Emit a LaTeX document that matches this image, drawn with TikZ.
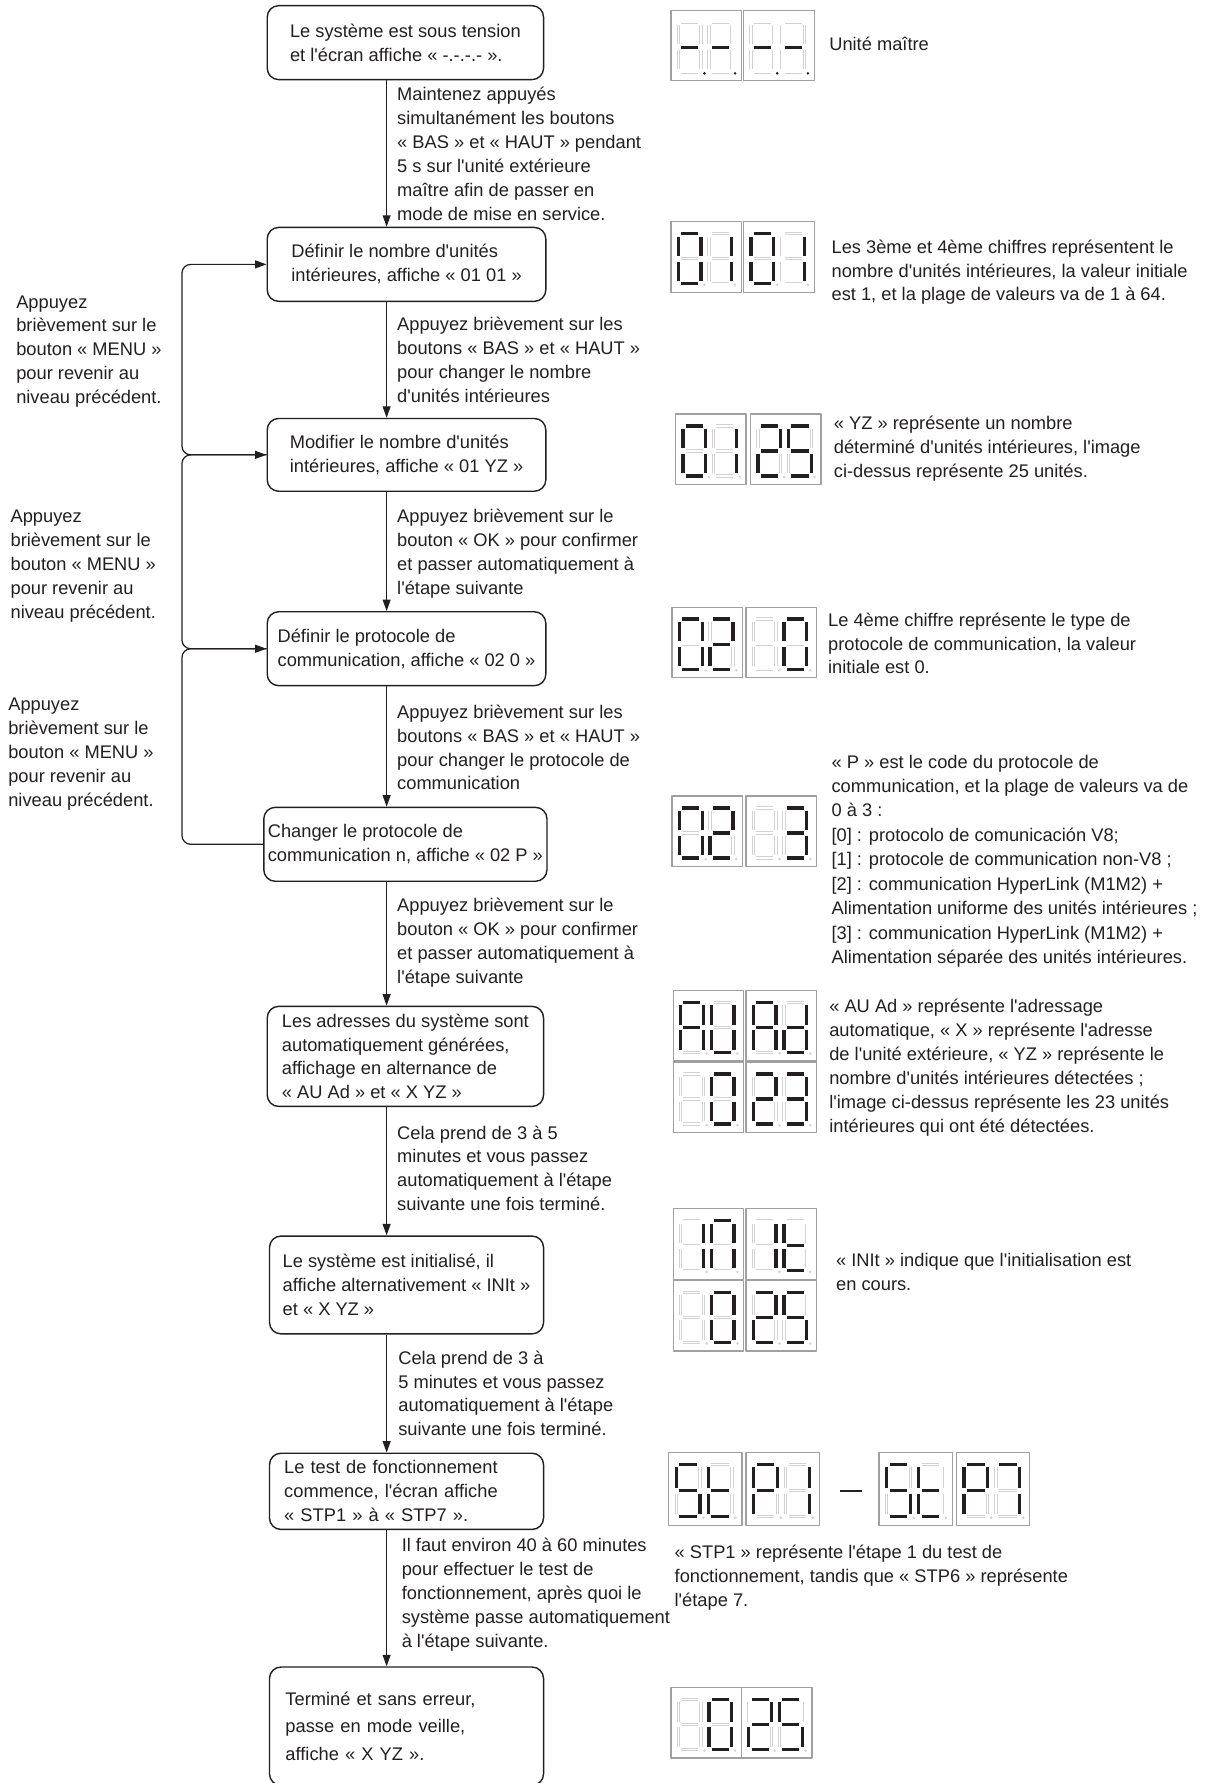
\documentclass[tikz,border=0pt]{standalone}
\usepackage{fontspec}
\setmainfont{Liberation Sans}[Ligatures=TeXOff]
\usetikzlibrary{arrows.meta}
\definecolor{cInk}{HTML}{231F20}
\definecolor{cOff}{HTML}{D2D2D2}
\definecolor{cPanel}{HTML}{A0A0A0}
\newcommand{\pxu}{0.02273cm}
\newcommand{\bodyfont}{\fontsize{10.4}{13.6}\selectfont}
\tikzset{
  stepbox/.style={draw=cInk, line width=0.8pt, rounded corners=6.5pt, align=left,
                  inner sep=0pt, font=\bodyfont, text=cInk},
  txt/.style={align=left, inner sep=0pt, anchor=north west, font=\bodyfont, text=cInk},
  ar/.style={-{Triangle[length=6.5pt, width=4.5pt]}, line width=0.7pt, draw=cInk},
  seg0/.style={draw=cOff, double=white, double distance=0.9pt, line width=0.5pt},
  seg1/.style={draw=cInk, line width=1.9pt},
  segdot/.style={fill=cOff},
  panelbox/.style={draw=cPanel, line width=0.7pt},
}
% one seven-segment digit: #1 left offset, #2..#8 segments a..g (1 = lit)
\def\sevdigB#1#2#3#4#5#6#7#8{%
  \draw[seg#2] (#1+4,10.5) -- (#1+19,10.5);
  \draw[seg#3] (#1+21.5,13) -- (#1+21.5,30);
  \draw[seg#4] (#1+21.5,35) -- (#1+21.5,52);
  \draw[seg#5] (#1+4,54.5) -- (#1+19,54.5);
  \draw[seg#6] (#1+1.5,35) -- (#1+1.5,52);
  \draw[seg#7] (#1+1.5,13) -- (#1+1.5,30);
  \draw[seg#8] (#1+4,32.5) -- (#1+19,32.5);
  \fill[segdot] (#1+24.5,55.5) circle (0.8pt);}
% a framed pair of digits, top left corner at #2
\newcommand{\sevpanel}[4][1]{%
  \begin{scope}[shift={#2}, scale=#1]
    \draw[panelbox] (0,0) rectangle (62,62);
    \sevdigB{5}#3
    \sevdigB{32}#4
  \end{scope}}

\begin{document}
\begin{tikzpicture}[x=0.02273cm, y=-0.02273cm, line join=round]
  \useasboundingbox (0,0) rectangle (1068,1568);

  % steps
  \node[stepbox, minimum width=243*\pxu, minimum height=65*\pxu] (b1) at (356.5,37.5)  {Le système est sous tension\\et l'écran affiche « -.-.-.- ».};
  \node[stepbox, minimum width=245*\pxu, minimum height=65*\pxu] (b2) at (357.5,232.5) {Définir le nombre d'unités\\intérieures, affiche « 01 01 »};
  \node[stepbox, minimum width=245*\pxu, minimum height=64*\pxu] (b3) at (357.5,400)   {Modifier le nombre d'unités\\intérieures, affiche « 01 YZ »};
  \node[stepbox, minimum width=245*\pxu, minimum height=65*\pxu] (b4) at (357.5,570.5) {Définir le protocole de\\communication, affiche « 02 0 »};
  \node[stepbox, minimum width=249*\pxu, minimum height=65*\pxu] (b5) at (356.5,742.5) {Changer le protocole de\\communication n, affiche « 02 P »};
  \node[stepbox, minimum width=243*\pxu, minimum height=88*\pxu] (b6) at (356.5,929)   {Les adresses du système sont\\automatiquement générées,\\affichage en alternance de\\« AU Ad » et « X YZ »};
  \node[stepbox, minimum width=241*\pxu, minimum height=86*\pxu] (b7) at (357.5,1130)  {Le système est initialisé, il\\affiche alternativement « INIt »\\et « X YZ »};
  \node[stepbox, minimum width=241*\pxu, minimum height=67*\pxu, text width=4.89cm] (b8) at (357.5,1311.5) {Le test de fonctionnement\\commence, l'écran affiche\\« STP1 » à « STP7 ».};
  \node[stepbox, minimum width=241*\pxu, minimum height=104*\pxu, text width=4.84cm,
        font=\fontsize{10.4}{15.8}\selectfont] (b9) at (357.5,1518) {Terminé et sans erreur,\\passe en mode veille,\\affiche « X YZ ».};

  \coordinate (spine) at (340,0);
  \coordinate (back) at (160,0);
  \foreach \a/\b in {b1/b2,b2/b3,b3/b4,b4/b5,b5/b6,b6/b7,b7/b8,b8/b9}
    \draw[ar] (\a.south -| spine) -- (\b.north -| spine);
  \foreach \a/\b in {b3/b2,b4/b3,b5/b4}
    \draw[ar, rounded corners=5pt] (\a.west) -- (\a.west -| back) -- (\b.west -| back) -- (\b.west);

  % what to do between the steps
  \node[txt] (t12) at (349,76.5)  {Maintenez appuyés\\simultanément les boutons\\« BAS » et « HAUT » pendant\\5 s sur l'unité extérieure\\maître afin de passer en\\mode de mise en service.};
  \node[txt] (t23) at (349,278.5) {Appuyez brièvement sur les\\boutons « BAS » et « HAUT »\\pour changer le nombre\\d'unités intérieures};
  \node[txt] (t34) at (349,447.5) {Appuyez brièvement sur le\\bouton « OK » pour confirmer\\et passer automatiquement à\\l'étape suivante};
  \node[txt] (t45) at (349,619.5) {Appuyez brièvement sur les\\boutons « BAS » et « HAUT »\\pour changer le protocole de\\communication};
  \node[txt] (t56) at (349,789.5) {Appuyez brièvement sur le\\bouton « OK » pour confirmer\\et passer automatiquement à\\l'étape suivante};
  \node[txt] (t67) at (349,989.5) {Cela prend de 3 à 5\\minutes et vous passez\\automatiquement à l'étape\\suivante une fois terminé.};
  \node[txt] (t78) at (350,1187.5) {Cela prend de 3 à\\5 minutes et vous passez\\automatiquement à l'étape\\suivante une fois terminé.};
  \node[txt] (t89) at (353,1352.5) {Il faut environ 40 à 60 minutes\\pour effectuer le test de\\fonctionnement, après quoi le\\système passe automatiquement\\à l'étape suivante.};

  % going back
  \node[txt] (m23) at (14,259.5) {Appuyez\\brièvement sur le\\bouton « MENU »\\pour revenir au\\niveau précédent.};
  \node[txt] (m34) at (9,448.5)  {Appuyez\\brièvement sur le\\bouton « MENU »\\pour revenir au\\niveau précédent.};
  \node[txt] (m45) at (7,613.5)  {Appuyez\\brièvement sur le\\bouton « MENU »\\pour revenir au\\niveau précédent.};

  % displays
  \begin{scope}[segdot/.style={fill=cInk}]
    \sevpanel{(590,9)}{0000001}{0000001}
    \sevpanel{(654,9)}{0000001}{0000001}
  \end{scope}
  \sevpanel{(590,195)}{1111110}{0110000}
  \sevpanel{(654,195)}{1111110}{0110000}
  \sevpanel{(594,364)}{1111110}{0110000}
  \sevpanel{(660,364)}{1101101}{1011011}
  \sevpanel{(591,534)}{1111110}{1101101}
  \sevpanel{(656,534)}{0000000}{1111110}
  \sevpanel{(591,700)}{1111110}{1101101}
  \sevpanel{(656,700)}{0000000}{1111001}
  \sevpanel{(592,871)}{1110111}{0111110}
  \sevpanel{(656,871)}{1110111}{0111101}
  \sevpanel{(592,934)}{0000000}{1111110}
  \sevpanel{(656,934)}{1101101}{1111001}
  \sevpanel{(592,1063)}{0110000}{1110110}
  \sevpanel{(656,1063)}{0110000}{0001111}
  \sevpanel{(592,1126)}{0000000}{1111110}
  \sevpanel{(656,1126)}{1101101}{1011011}
  \sevpanel[1.04]{(588,1277)}{1011011}{0001111}
  \sevpanel[1.04]{(656,1277)}{1100111}{0110000}
  \draw[draw=cInk, line width=1.4pt] (739,1311) -- (758,1311);
  \sevpanel[1.04]{(773,1277)}{1011011}{0001111}
  \sevpanel[1.04]{(841,1277)}{1100111}{1110000}
  \sevpanel{(590,1484)}{0000000}{1111110}
  \sevpanel{(652,1484)}{1101101}{1011011}

  % notes on the displays
  \node[txt] (r1) at (729,32.5)  {Unité maître};
  \node[txt] (r2) at (731,210.5) {Les 3ème et 4ème chiffres représentent le\\nombre d'unités intérieures, la valeur initiale\\est 1, et la plage de valeurs va de 1 à 64.};
  \node[txt] (r3) at (733,365.5) {« YZ » représente un nombre\\déterminé d'unités intérieures, l'image\\ci-dessus représente 25 unités.};
  \node[txt] (r4) at (728,538.5) {Le 4ème chiffre représente le type de\\protocole de communication, la valeur\\initiale est 0.};
  \node[txt, font=\fontsize{10.4}{13.9}\selectfont] (r5) at (731,663.5) {« P » est le code du protocole de\\communication, et la plage de valeurs va de\\0 à 3 :\\{}[0] : protocolo de comunicación V8;\\{}[1] : protocole de communication non-V8 ;\\{}[2] : communication HyperLink (M1M2) +\\Alimentation uniforme des unités intérieures ;\\{}[3] : communication HyperLink (M1M2) +\\Alimentation séparée des unités intérieures.};
  \node[txt] (r6) at (729,878.5) {« AU Ad » représente l'adressage\\automatique, « X » représente l'adresse\\de l'unité extérieure, « YZ » représente le\\nombre d'unités intérieures détectées ;\\l'image ci-dessus représente les 23 unités\\intérieures qui ont été détectées.};
  \node[txt] (r7) at (735,1101.5) {« INIt » indique que l'initialisation est\\en cours.};
  \node[txt] (r8) at (593,1358.5) {« STP1 » représente l'étape 1 du test de\\fonctionnement, tandis que « STP6 » représente\\l'étape 7.};
\end{tikzpicture}
\end{document}
